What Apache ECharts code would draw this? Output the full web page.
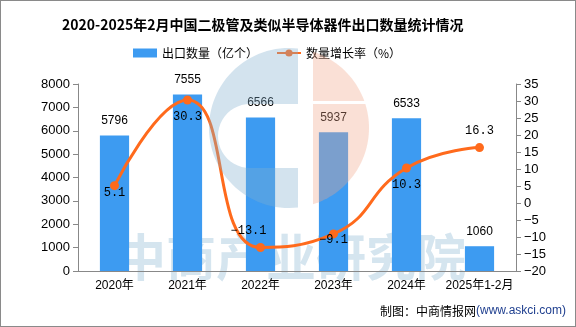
<!DOCTYPE html>
<html><head><meta charset="utf-8">
<script src="https://cdn.jsdelivr.net/npm/echarts@6/dist/echarts.min.js"></script>
<style>html,body{margin:0;padding:0;background:#fff}#c{width:574px;height:325px;border:1px solid #8a8a8a}</style>
</head><body><div id="c"></div>
<script>
const categories = ['2020年','2021年','2022年','2023年','2024年','2025年1-2月'];
const exportVolume = [5796, 7555, 6566, 5937, 6533, 1060];
const growthRate = [5.1, 30.3, -13.1, -9.1, 10.3, 16.3];
const growthLabelPos = ['inside','bottom','top','inside','bottom','top'];
const growthLabelOffset = [[0,7],[0,0],[-12,0],[0,6],[0,0],[0,0]];

// watermark logo outline helper (decoration only)
function arcPts(cx, cy, r, a0, a1, n) {
  const pts = [];
  for (let i = 0; i <= n; i++) {
    const a = a0 + (a1 - a0) * i / n;
    pts.push([cx + r * Math.cos(a), cy + r * Math.sin(a)]);
  }
  return pts;
}
const LX = 288, LY = 127, LR = 80;
const ang = (x, y) => Math.atan2(y - LY, x - LX);
const blueTop = ang(297, 47.5), blueBot = ang(297, 206.5);
const bluePoly = arcPts(LX, LY, LR, blueTop, blueTop - (2*Math.PI - (blueBot - blueTop)), 60)
  .concat([[297,167],[249,167]])
  .concat(arcPts(249, 135, 32, Math.PI/2, 3*Math.PI/2, 24))
  .concat([[297,103]]);
const pinkTop = arcPts(LX, LY, LR, ang(312,50.7), ang(363.3,100), 20).concat([[312,100]]);
const pinkBot = [[312,103]].concat(arcPts(LX, LY, LR, ang(364.3,103), ang(312,203.3), 40));

const chart = echarts.init(document.getElementById('c'));
const ff = 'Liberation Sans, Arial, Noto Sans CJK SC, sans-serif';
const blueWM = 'rgba(129,175,206,0.35)';
const pinkWM = 'rgba(240,166,138,0.35)';
chart.setOption({
  animation:false,
  textStyle:{fontFamily:ff},
  title:{text:'2020-2025年2月中国二极管及类似半导体器件出口数量统计情况',left:56,top:12,
    textStyle:{fontSize:14,fontWeight:'bold',color:'#000',fontFamily:'Noto Sans CJK SC'}},
  legend:{top:41,left:127,itemGap:18,itemWidth:24,itemHeight:9,
    textStyle:{fontSize:12,color:'#000',fontFamily:'Noto Sans CJK SC'},
    data:[{name:'出口数量（亿个）',icon:'rect'},{name:'数量增长率（%）'}]},
  graphic:[
    {type:'text',x:115,y:231,zlevel:-1,style:{text:'中商产业研究院',fontSize:50,fontWeight:'bold',fill:'#d5e5ef',fontFamily:'Noto Sans CJK SC'}},
    {type:'polygon',z:100,shape:{points:bluePoly},style:{fill:blueWM}},
    {type:'polygon',z:100,shape:{points:pinkTop},style:{fill:pinkWM}},
    {type:'polygon',z:100,shape:{points:pinkBot},style:{fill:pinkWM}},
    {type:'text',right:9,top:304,z:100,style:{rich:{a:{fontSize:12,fill:'#000',fontFamily:'Noto Sans CJK SC'},b:{fontSize:12,fill:'#1f3f8f',fontFamily:'Liberation Sans'}},text:'{a|制图：中商情报网}{b|(www.askci.com)}'}}
  ],
  grid:{left:77,right:59,top:83,bottom:55},
  xAxis:{type:'category',data:categories,
    axisLine:{lineStyle:{color:'#888'}},axisTick:{lineStyle:{color:'#888'}},
    axisLabel:{color:'#000',fontSize:12,margin:9,interval:0}},
  yAxis:[
    {type:'value',min:0,max:8000,interval:1000,splitLine:{show:false},
     axisLine:{show:true,lineStyle:{color:'#888'}},axisTick:{show:true,lineStyle:{color:'#888'}},
     axisLabel:{color:'#000',fontSize:13,formatter:v=>String(v)}},
    {type:'value',min:-20,max:35,interval:5,splitLine:{show:false},
     axisLine:{show:true,lineStyle:{color:'#888'}},axisTick:{show:true,lineStyle:{color:'#888'}},
     axisLabel:{color:'#000',fontSize:13,formatter:v=>String(v).replace('-','−')}}
  ],
  series:[
    {name:'出口数量（亿个）',type:'bar',data:exportVolume,barWidth:'40%',z:2,
     itemStyle:{color:'#3d9bf1'},
     label:{show:true,position:'top',distance:9,color:'#000',fontSize:12}},
    {name:'数量增长率（%）',type:'line',yAxisIndex:1,smooth:true,z:3,
     data:growthRate.map((v,i)=>({value:v,label:{position:growthLabelPos[i],offset:growthLabelOffset[i]}})),
     symbol:'circle',symbolSize:9,
     lineStyle:{color:'#ff6a1c',width:3},itemStyle:{color:'#ff6a1c'},
     label:{show:true,color:'#000',fontSize:12,distance:6,fontFamily:'Liberation Mono',formatter:p=>String(p.value).replace('-','−')}}
  ]
});
</script></body></html>
